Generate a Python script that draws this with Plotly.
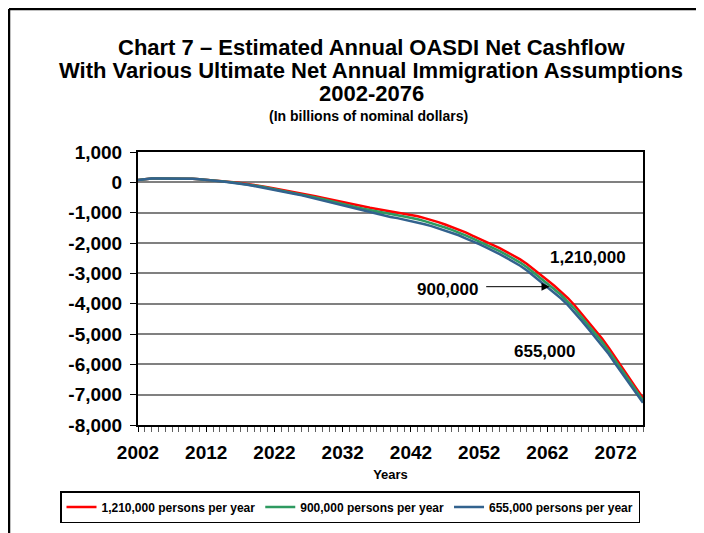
import plotly.graph_objects as go

years = list(range(2002, 2077))

# 1,210,000 persons per year
high_imm = [
    80, 110, 125, 130, 130, 130, 130, 125, 115, 100,              # 2002-2011
    85, 65, 45, 25, 5, -20, -50, -85, -120, -160,                 # 2012-2021
    -200, -240, -280, -320, -360, -410, -460, -510, -560, -610,   # 2022-2031
    -660, -710, -760, -800, -840, -880, -920, -960, -990, -1030,  # 2032-2041
    -1070, -1120, -1180, -1240, -1310, -1390, -1470, -1550, -1650, -1760,  # 2042-2051
    -1860, -1960, -2060, -2170, -2290, -2410, -2540, -2690, -2860, -3040,  # 2052-2061
    -3230, -3410, -3600, -3820, -4060, -4330, -4600, -4880, -5150, -5460,  # 2062-2071
    -5800, -6130, -6460, -6790, -7110,                            # 2072-2076
]

# 900,000 persons per year
mid_imm = [
    80, 110, 125, 130, 130, 130, 130, 125, 115, 100,
    85, 62, 40, 18, -5, -32, -65, -102, -140, -182,
    -225, -268, -310, -352, -395, -448, -500, -552, -610, -662,
    -715, -768, -820, -870, -918, -962, -1008, -1050, -1085, -1128,
    -1170, -1220, -1280, -1342, -1412, -1490, -1568, -1648, -1748, -1848,
    -1950, -2052, -2155, -2268, -2390, -2512, -2645, -2800, -2975, -3155,
    -3345, -3525, -3715, -3935, -4175, -4445, -4715, -4992, -5260, -5565,
    -5900, -6225, -6550, -6870, -7190,
]

# 655,000 persons per year
low_imm = [
    80, 110, 125, 130, 130, 130, 130, 125, 115, 100,
    85, 60, 35, 10, -15, -45, -80, -120, -160, -205,
    -250, -295, -340, -385, -430, -485, -540, -595, -660, -715,
    -770, -825, -880, -940, -995, -1045, -1095, -1140, -1180, -1225,
    -1270, -1320, -1380, -1445, -1515, -1590, -1665, -1745, -1845, -1935,
    -2040, -2145, -2250, -2365, -2490, -2615, -2750, -2910, -3090, -3270,
    -3460, -3640, -3830, -4050, -4290, -4560, -4830, -5105, -5370, -5670,
    -6000, -6320, -6640, -6950, -7270,
]

series_names = [
    "1,210,000 persons per year",
    "900,000 persons per year",
    "655,000 persons per year",
]
series_colors = ["#FF0000", "#2E9A60", "#32628E"]

y_ticks = [1000, 0, -1000, -2000, -3000, -4000, -5000, -6000, -7000, -8000]
y_tick_labels = ["1,000", "0", "-1,000", "-2,000", "-3,000", "-4,000",
                 "-5,000", "-6,000", "-7,000", "-8,000"]
x_ticks = [2002, 2012, 2022, 2032, 2042, 2052, 2062, 2072]

title_lines = [
    "Chart 7 – Estimated Annual OASDI Net Cashflow",
    "With Various Ultimate Net Annual Immigration Assumptions",
    "2002-2076",
]
subtitle = "(In billions of nominal dollars)"

FONT = "Arial, Liberation Sans, sans-serif"
# the page body adds an 8px offset at the top left
W, H = 696, 525
OFF = 8


# screen px -> paper coords (plot area on screen: x 138..643, y 152..425)
def px_x(p):
    return (p - 138) / 505.0


def px_y(p):
    return (425 - p) / 273.0


fig = go.Figure()
for vals, name, color in zip([high_imm, mid_imm, low_imm], series_names, series_colors):
    fig.add_trace(go.Scatter(
        x=years, y=vals, mode="lines", name=f"<b>{name}</b>",
        line=dict(color=color, width=2.5),
    ))

for txt, ypos in zip(title_lines, [47, 71, 93.5]):
    fig.add_annotation(
        text=f"<b>{txt}</b>", xref="paper", yref="paper",
        x=px_x(371), y=px_y(ypos), showarrow=False,
        xanchor="center", yanchor="middle",
        font=dict(family=FONT, size=22, color="black"),
    )
fig.add_annotation(
    text=f"<b>{subtitle}</b>", xref="paper", yref="paper",
    x=px_x(368), y=px_y(115.5), showarrow=False,
    xanchor="center", yanchor="middle",
    font=dict(family=FONT, size=14, color="black"),
)

# curve labels
label_font = dict(family=FONT, size=17, color="black")
fig.add_annotation(text="<b>1,210,000</b>", x=2067.9, y=-2480, showarrow=False, font=label_font)
fig.add_annotation(text="<b>900,000</b>", x=2047.4, y=-3540, showarrow=False, font=label_font)
fig.add_annotation(text="<b>655,000</b>", x=2061.5, y=-5580, showarrow=False, font=label_font)
fig.add_annotation(
    text="", x=2062.3, y=-3440, ax=2052.8, ay=-3440, axref="x", ayref="y",
    showarrow=True, arrowhead=2, arrowsize=1.6, arrowwidth=1, arrowcolor="black",
)

# outer frame, only top and left edges are inside the picture
frame = dict(color="black", width=2.5)
fig.add_shape(type="line", xref="paper", yref="paper",
              x0=px_x(9), x1=px_x(720), y0=px_y(9), y1=px_y(9), line=frame)
fig.add_shape(type="line", xref="paper", yref="paper",
              x0=px_x(9), x1=px_x(9), y0=px_y(9), y1=px_y(545), line=frame)

fig.update_xaxes(
    range=[2002, 2076], tickvals=x_ticks, ticktext=[f"<b>{t}</b>" for t in x_ticks],
    ticks="outside", ticklen=5, tickcolor="black", tickwidth=1,
    minor=dict(dtick=1, tick0=2002, ticks="outside", ticklen=5, tickcolor="#606060"),
    showgrid=False, zeroline=False,
    showline=True, linecolor="black", linewidth=2, mirror=True,
    tickfont=dict(family=FONT, size=19, color="black"),
    ticklabelstandoff=4,
    title=dict(text="<b>Years</b>", font=dict(family=FONT, size=13, color="black"), standoff=8),
    automargin=False,
)
fig.update_yaxes(
    range=[-8000, 1000], tickvals=y_ticks, ticktext=[f"<b>{t}</b>" for t in y_tick_labels],
    ticks="outside", ticklen=6, tickcolor="black",
    showgrid=True, gridcolor="#808080", gridwidth=1.5, zeroline=False,
    showline=True, linecolor="black", linewidth=2, mirror=True,
    tickfont=dict(family=FONT, size=19, color="black"),
    ticklabelstandoff=4,
    automargin=False,
)

fig.update_layout(
    width=W, height=H,
    margin=dict(l=138 - OFF, r=W - (643 - OFF), t=152 - OFF, b=H - (425 - OFF), autoexpand=False),
    paper_bgcolor="white", plot_bgcolor="white",
    font=dict(family=FONT, color="black"),
    showlegend=True,
    legend=dict(
        orientation="h",
        x=px_x(60), xanchor="left", y=px_y(491), yanchor="top",
        bordercolor="black", borderwidth=1.5,
        font=dict(family=FONT, size=12, color="black"),
        traceorder="normal", itemwidth=30, tracegroupgap=0,
    ),
    modebar=dict(bgcolor="rgba(0,0,0,0)", color="rgba(0,0,0,0)",
                 activecolor="rgba(0,0,0,0)"),
)

fig.write_html("out.html")
